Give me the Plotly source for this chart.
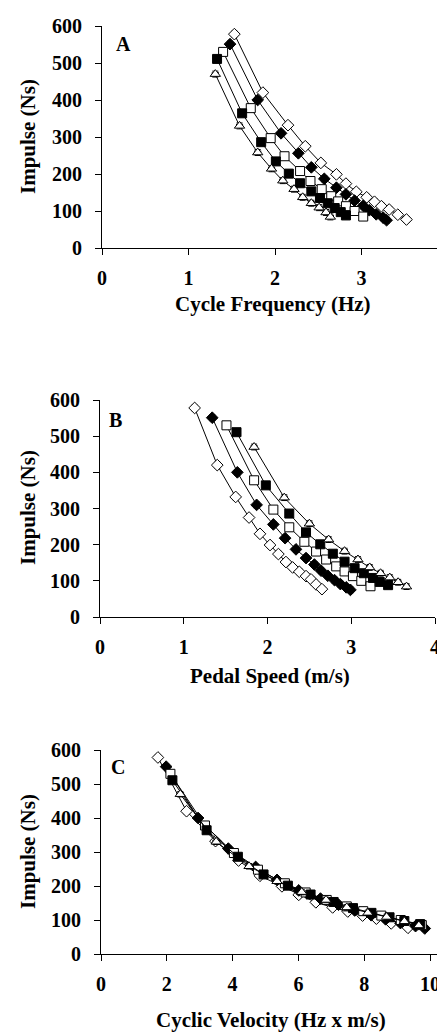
import plotly.graph_objects as go

W, H = 445, 1033

# ---------------- data ----------------
# impulse (Ns) per series
imp_od = [578, 420, 332, 275, 230, 199, 174, 152, 137, 125, 113, 104, 90, 77]
imp_fd = [551, 400, 310, 256, 218, 187, 163, 145, 128, 114, 102, 91, 82, 75]
imp_os = [530, 378, 297, 248, 208, 181, 159, 140, 126, 113, 100, 85]
imp_fs = [511, 364, 286, 234, 201, 175, 153, 135, 121, 108, 97, 88]
imp_ot = [470, 330, 258, 214, 182, 159, 137, 121, 109, 96, 84]

# A: cycle frequency (Hz)
freq_od = [1.53, 1.86, 2.15, 2.35, 2.53, 2.71, 2.82, 2.94, 3.06, 3.15, 3.23, 3.32, 3.42, 3.52]
freq_fd = [1.48, 1.80, 2.07, 2.27, 2.42, 2.57, 2.71, 2.82, 2.92, 3.02, 3.09, 3.17, 3.25, 3.29]
freq_os = [1.40, 1.72, 1.95, 2.11, 2.29, 2.41, 2.54, 2.65, 2.73, 2.82, 2.92, 3.02]
freq_fs = [1.33, 1.62, 1.84, 2.01, 2.16, 2.29, 2.42, 2.52, 2.61, 2.69, 2.76, 2.82]
freq_ot = [1.31, 1.59, 1.80, 1.96, 2.09, 2.22, 2.32, 2.42, 2.51, 2.59, 2.64]

# B: pedal speed (m/s)
speed_od = [1.13, 1.40, 1.62, 1.78, 1.91, 2.03, 2.13, 2.22, 2.30, 2.38, 2.46, 2.52, 2.58, 2.65]
speed_fd = [1.34, 1.64, 1.87, 2.07, 2.21, 2.34, 2.46, 2.56, 2.64, 2.72, 2.80, 2.87, 2.94, 2.99]
speed_os = [1.51, 1.84, 2.07, 2.26, 2.44, 2.58, 2.70, 2.82, 2.92, 3.02, 3.12, 3.23]
speed_fs = [1.63, 1.98, 2.26, 2.46, 2.63, 2.78, 2.92, 3.04, 3.15, 3.26, 3.34, 3.44]
speed_ot = [1.84, 2.20, 2.50, 2.73, 2.92, 3.08, 3.22, 3.35, 3.46, 3.56, 3.66]

# C: cyclic velocity (Hz x m/s)
cv_od = [1.73, 2.60, 3.48, 4.18, 4.83, 5.50, 6.01, 6.53, 7.04, 7.50, 7.95, 8.37, 8.82, 9.33]
cv_fd = [1.98, 2.95, 3.87, 4.70, 5.35, 6.01, 6.67, 7.22, 7.71, 8.21, 8.65, 9.10, 9.56, 9.84]
cv_os = [2.11, 3.16, 4.04, 4.77, 5.59, 6.22, 6.86, 7.47, 7.97, 8.52, 9.11, 9.75]
cv_fs = [2.17, 3.21, 4.16, 4.94, 5.68, 6.37, 7.07, 7.66, 8.22, 8.77, 9.22, 9.70]
cv_ot = [2.41, 3.50, 4.50, 5.35, 6.10, 6.84, 7.47, 8.11, 8.68, 9.22, 9.66]

y_ticks = [0, 100, 200, 300, 400, 500, 600]
a_ticks = [0, 1, 2, 3, 4]
b_ticks = [0, 1, 2, 3, 4]
c_ticks = [0, 2, 4, 6, 8, 10]

series_styles = [
    ("od", "diamond", "white"),
    ("fd", "diamond", "black"),
    ("os", "square", "white"),
    ("fs", "square", "black"),
    ("ot", "triangle-up", "white"),
]
imp = {"od": imp_od, "fd": imp_fd, "os": imp_os, "fs": imp_fs, "ot": imp_ot}
xa = {"od": freq_od, "fd": freq_fd, "os": freq_os, "fs": freq_fs, "ot": freq_ot}
xb = {"od": speed_od, "fd": speed_fd, "os": speed_os, "fs": speed_fs, "ot": speed_ot}
xc = {"od": cv_od, "fd": cv_fd, "os": cv_os, "fs": cv_fs, "ot": cv_ot}

FONT = "Liberation Serif"

fig = go.Figure()

panels = [("x", "y", xa, 0.035), ("x2", "y2", xb, 0.035), ("x3", "y3", xc, 0.1)]
for xref, yref, xd, ex in panels:
    for key, sym, fill in series_styles:
        fig.add_trace(go.Scatter(
            x=xd[key], y=imp[key], xaxis=xref, yaxis=yref,
            mode="lines+markers",
            line=dict(color="black", width=1),
            marker=dict(symbol=sym, size=9, color=fill,
                        line=dict(color="black", width=1)),
            error_x=dict(type="constant", value=ex, color="black",
                         thickness=1, width=2),
            error_y=dict(type="constant", value=8, color="black",
                         thickness=1, width=3),
            showlegend=False, hoverinfo="skip", cliponaxis=False,
        ))


def px_x(p):
    return p / W


def px_y(p):
    return 1 - p / H


tickfont = dict(family=FONT, size=20, color="black", weight="bold")
common_x = dict(showline=True, linecolor="black", linewidth=1, ticks="outside",
                ticklen=6, tickcolor="black", showgrid=False, zeroline=False,
                tickfont=tickfont, ticklabelstandoff=6, automargin=False)
common_y = dict(showline=True, linecolor="black", linewidth=1, ticks="outside",
                ticklen=6, tickcolor="black", showgrid=False, zeroline=False,
                tickfont=tickfont, range=[0, 600], tickvals=y_ticks,
                ticklabelstandoff=9, automargin=False)

fig.update_layout(
    width=W, height=H,
    margin=dict(l=0, r=0, t=0, b=0, pad=0, autoexpand=False),
    paper_bgcolor="white", plot_bgcolor="white",
    xaxis=dict(common_x, domain=[px_x(94), px_x(440)], range=[0, 4],
               tickvals=a_ticks, anchor="y"),
    yaxis=dict(common_y, domain=[px_y(240), px_y(18)], anchor="x"),
    xaxis2=dict(common_x, domain=[px_x(92), px_x(427)], range=[0, 4],
                tickvals=b_ticks, anchor="y2"),
    yaxis2=dict(common_y, domain=[px_y(609), px_y(392)], anchor="x2"),
    xaxis3=dict(common_x, domain=[px_x(93), px_x(428.6)], range=[0, 10.2],
                tickvals=c_ticks, anchor="y3"),
    yaxis3=dict(common_y, domain=[px_y(946), px_y(742)], anchor="x3"),
)

titlefont = dict(family=FONT, size=21, color="black", weight="bold")
labelfont = dict(family=FONT, size=20, color="black", weight="bold")
ann = []
# x-axis titles
for text, xc_, yc_ in [("Cycle Frequency (Hz)", 265, 296),
                       ("Pedal Speed (m/s)", 262, 668),
                       ("Cyclic Velocity (Hz x m/s)", 263, 1012)]:
    ann.append(dict(text=text, x=px_x(xc_), y=px_y(yc_), xref="paper", yref="paper",
                    showarrow=False, font=titlefont, xanchor="center", yanchor="middle"))
# y-axis titles
for yc_ in [129, 500, 844]:
    ann.append(dict(text="Impulse (Ns)", x=px_x(20), y=px_y(yc_), xref="paper",
                    yref="paper", showarrow=False, font=titlefont, textangle=-90,
                    xanchor="center", yanchor="middle"))
# panel labels
for text, xc_, yc_ in [("A", 115, 36), ("B", 107, 412), ("C", 110, 759)]:
    ann.append(dict(text=text, x=px_x(xc_), y=px_y(yc_), xref="paper", yref="paper",
                    showarrow=False, font=labelfont, xanchor="center", yanchor="middle"))
fig.update_layout(annotations=ann)

fig.write_html("out.html")
